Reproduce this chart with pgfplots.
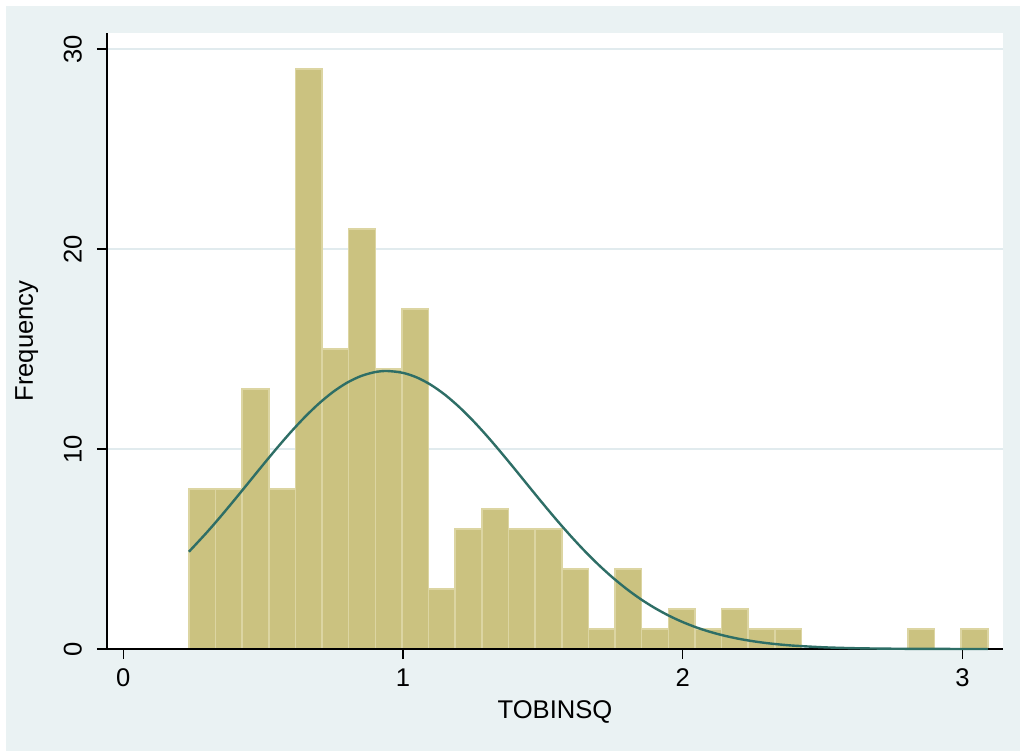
\documentclass[border=0pt]{standalone}
\usepackage{pgfplots}
\pgfplotsset{compat=1.18}
\usepackage{fontspec}
\setmainfont{Liberation Sans}
\definecolor{bgc}{RGB}{234,242,243}
\definecolor{gridc}{RGB}{225,235,238}
\definecolor{barfill}{RGB}{203,194,128}
\definecolor{barline}{RGB}{220,213,162}
\definecolor{curvec}{RGB}{46,110,102}
\begin{document}
\begin{tikzpicture}
\fill[white] (-53.5pt,-51pt) rectangle (456.5pt,324.5pt);
\fill[bgc] (-50.5pt,-51pt) rectangle (456.5pt,321.5pt);
\begin{axis}[
  scale only axis, width=448pt, height=308pt,
  xmin=-0.058, xmax=3.145, ymin=0, ymax=30.8,
  axis x line*=bottom, axis y line*=left,
  axis line style={black, line width=0.6pt},
  axis background/.style={fill=white},
  xtick={0,1,2,3}, ytick={0,10,20,30},
  tick align=outside, major tick length=5pt,
  tick style={black, line width=0.6pt},
  ymajorgrids, grid style={gridc, line width=0.8pt},
  /pgf/number format/assume math mode=true,
  tick label style={font=\fontsize{12.8}{15}\selectfont},
  label style={font=\fontsize{12.8}{15}\selectfont},
  xticklabel style={yshift=-1.5pt},
  yticklabel style={xshift=-4pt, rotate=90, anchor=south},
  xlabel={TOBINSQ}, ylabel={Frequency},
  ylabel style={yshift=6pt},
  clip=false,
]
\addplot[ybar, bar width=0.09519, bar shift=0pt, fill=barfill, draw=barline, line width=0.75pt]
coordinates {
(0.2825,8) (0.3777,8) (0.4729,13) (0.5681,8) (0.6633,29) (0.7585,15)
(0.8536,21) (0.9488,14) (1.0440,17) (1.1392,3) (1.2344,6) (1.3296,7)
(1.4248,6) (1.5200,6) (1.6152,4) (1.7104,1) (1.8055,4) (1.9007,1)
(1.9959,2) (2.0911,1) (2.1863,2) (2.2815,1) (2.3767,1)
(2.8526,1) (3.0430,1)
};
\draw[black, line width=0.6pt] (axis cs:-0.058,0) -- (axis cs:3.145,0);
\addplot[curvec, line width=1.2pt, smooth, mark=none]
coordinates {
(0.2349,4.864) (0.30,5.848) (0.35,6.655) (0.40,7.495) (0.45,8.353)
(0.50,9.213) (0.55,10.055) (0.60,10.861) (0.65,11.609) (0.70,12.279)
(0.75,12.853) (0.80,13.315) (0.85,13.648) (0.90,13.845) (0.9435,13.9)
(1.00,13.807) (1.05,13.575) (1.10,13.206) (1.15,12.714) (1.20,12.113)
(1.25,11.421) (1.30,10.656) (1.35,9.838) (1.40,8.991) (1.45,8.129)
(1.50,7.274) (1.55,6.441) (1.60,5.645) (1.65,4.894) (1.70,4.200)
(1.75,3.567) (1.80,2.997) (1.85,2.492) (1.90,2.052) (1.95,1.671)
(2.00,1.347) (2.05,1.074) (2.10,0.848) (2.15,0.662) (2.20,0.512)
(2.25,0.392) (2.30,0.296) (2.35,0.222) (2.40,0.165) (2.50,0.088)
(2.60,0.045) (2.70,0.022) (2.80,0.010) (2.90,0.005) (3.00,0.002)
(3.0905,0.001)
};
\end{axis}
\end{tikzpicture}
\end{document}
